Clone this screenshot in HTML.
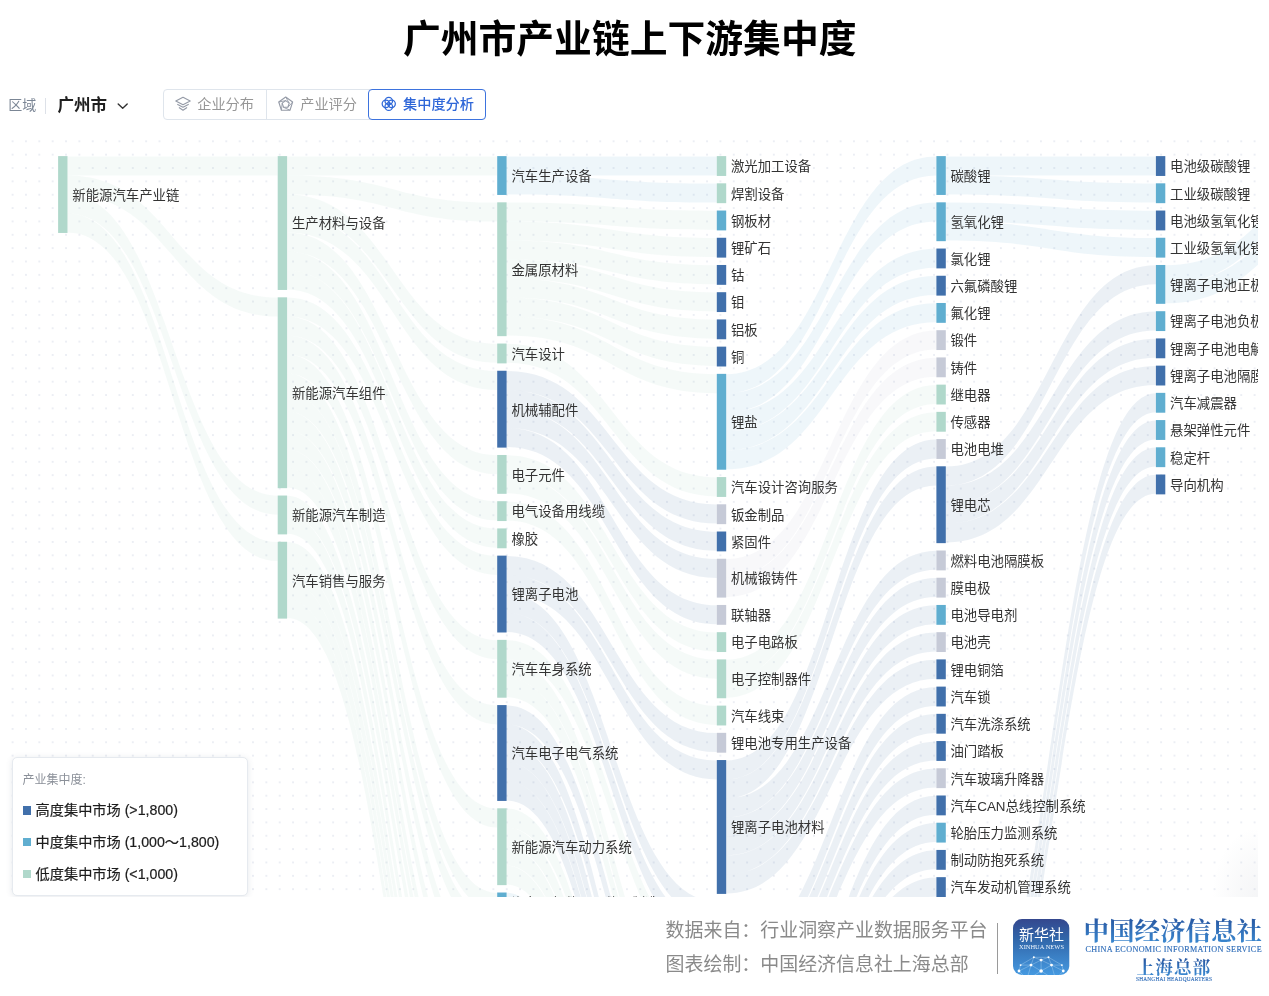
<!DOCTYPE html>
<html lang="zh-CN">
<head>
<meta charset="utf-8">
<title>广州市产业链上下游集中度</title>
<style>
html,body{margin:0;padding:0;background:#fff;}
body{width:1269px;height:996px;position:relative;overflow:hidden;font-family:"Liberation Sans","Noto Sans CJK SC",sans-serif;color:#333;}
.abs{position:absolute;white-space:nowrap;}
#title{left:0;width:1259.4px;top:10.5px;height:56px;line-height:56px;text-align:center;font-size:37.8px;font-weight:700;color:#000;letter-spacing:0;}
#region-label{left:8.2px;top:94px;height:22px;line-height:22px;font-size:14px;color:#7b8695;}
#region-div{left:44.5px;top:97.5px;width:1px;height:16.5px;background:#dde1e8;}
#region-val{left:57.6px;top:93px;height:24px;line-height:24px;font-size:16.5px;font-weight:700;color:#1f1f1f;}
#tabs{left:163px;top:89px;width:323px;height:30.5px;box-sizing:border-box;border:1px solid #dfe5ec;border-radius:4px;}
.tab{position:absolute;top:89px;height:30.5px;line-height:30px;font-size:14.2px;color:#979797;white-space:nowrap;}
#tab-active{left:368px;top:89px;width:118px;height:30.5px;box-sizing:border-box;border:1px solid #3d73de;border-radius:4px;background:#fff;}
#legend{left:12.1px;top:618.5px;width:235.6px;height:139.3px;box-sizing:border-box;border:1px solid #e6eaef;border-radius:5px;background:#fff;box-shadow:0 1px 6px rgba(60,80,110,0.13);}
#legend .lt{position:absolute;left:9.5px;top:12px;font-size:12px;line-height:20px;color:#8b9099;}
#legend .li{position:absolute;left:9.3px;height:20px;line-height:20px;font-size:14.2px;color:#1c1c1c;white-space:nowrap;-webkit-text-stroke:0.2px #1c1c1c;}
#legend .sw{position:absolute;left:0.3px;top:6px;width:8.3px;height:8.3px;}
#legend .tx{position:absolute;left:13.2px;top:0;}
.foot{left:665.6px;font-size:18.95px;line-height:26px;height:26px;color:#8a8a8a;}
#vline{left:996.5px;top:922.5px;width:1.2px;height:51.5px;background:#9a9a9a;}
#logo{left:1013.4px;top:919px;width:56.3px;height:55.9px;}
.cn-serif{font-family:"Liberation Serif","Noto Serif CJK SC",serif;}
</style>
</head>
<body>
<div id="title" class="abs">广州市产业链上下游集中度</div>

<div id="region-label" class="abs">区域</div>
<div id="region-div" class="abs"></div>
<div id="region-val" class="abs">广州市</div>
<svg class="abs" style="left:116px;top:100px" width="14" height="12" viewBox="0 0 14 12"><path d="M2.2 4 L6.7 8.3 L11.2 4" fill="none" stroke="#333" stroke-width="1.4" stroke-linecap="round" stroke-linejoin="round"/></svg>

<div id="tabs" class="abs"></div>
<div class="abs" style="left:265.5px;top:90px;width:1px;height:28.5px;background:#dfe5ec"></div>
<svg class="abs" style="left:170px;top:92px" width="30" height="24" viewBox="170 92 30 24"><g fill="none" stroke="#959ba7" stroke-width="1.15" stroke-linejoin="round" stroke-linecap="round"><path d="M183 97.3 L190.2 101 L183 104.7 L175.8 101 Z"/><path d="M177.7 104.4 L183 107.2 L188.3 104.4"/><path d="M179.3 107.7 L183 110.2 L186.7 107.7"/></g></svg>
<div class="tab" style="left:197.2px">企业分布</div>
<svg class="abs" style="left:272px;top:92px" width="30" height="24" viewBox="272 92 30 24"><g fill="none" stroke="#959ba7" stroke-width="1.1" stroke-linejoin="round"><path d="M285.70 97.00 L292.64 102.04 L289.99 110.21 L281.41 110.21 L278.76 102.04 Z"/><path d="M285.70 100.60 L289.22 103.16 L287.87 107.29 L283.53 107.29 L282.18 103.16 Z"/><path d="M285.70 97.00 L289.22 103.16M292.64 102.04 L287.87 107.29M289.99 110.21 L283.53 107.29M281.41 110.21 L282.18 103.16M278.76 102.04 L285.70 100.60" stroke-width="0.9"/></g></svg>
<div class="tab" style="left:300.2px">产业评分</div>
<div id="tab-active" class="abs"></div>
<svg class="abs" style="left:374px;top:92px" width="30" height="24" viewBox="374 92 30 24"><g fill="none" stroke="#2f68d8" stroke-width="1.25"><circle cx="388.75" cy="101.00" r="3.75"/><circle cx="388.75" cy="106.70" r="3.75"/><circle cx="385.90" cy="103.85" r="3.75"/><circle cx="391.60" cy="103.85" r="3.75"/></g></svg>
<div class="tab" style="left:403px;color:#2f67d8;font-weight:500">集中度分析</div>

<svg width="1258" height="759.4" viewBox="0 138 1258 759.4" style="position:absolute;left:0;top:138px;overflow:hidden">
<defs><pattern id="dots" x="5.92" y="134.62" width="13.355" height="13.355" patternUnits="userSpaceOnUse"><circle cx="6.68" cy="6.68" r="1.0" fill="#e7eaf2"/></pattern></defs>
<rect x="8" y="138" width="1250" height="759.4" fill="url(#dots)"/>
<g fill="#9fd0c0" fill-opacity="0.105">
<path d="M67.5,156.4C172.6,156.4 172.6,156.4 277.7,156.4L277.7,175.4C172.6,175.4 172.6,175.4 67.5,175.4Z"/>
<path d="M67.5,175.4C172.6,175.4 172.6,297.6 277.7,297.6L277.7,316.6C172.6,316.6 172.6,194.4 67.5,194.4Z"/>
<path d="M67.5,194.4C172.6,194.4 172.6,495.8 277.7,495.8L277.7,514.8C172.6,514.8 172.6,213.4 67.5,213.4Z"/>
<path d="M67.5,213.4C172.6,213.4 172.6,542.1 277.7,542.1L277.7,561.1C172.6,561.1 172.6,232.4 67.5,232.4Z"/>
<path d="M287.1,156.4C392.2,156.4 392.2,156.4 497.2,156.4L497.2,175.4C392.2,175.4 392.2,175.4 287.1,175.4Z"/>
<path d="M287.1,175.4C392.2,175.4 392.2,202.6 497.2,202.6L497.2,221.6C392.2,221.6 392.2,194.4 287.1,194.4Z"/>
<path d="M287.1,194.4C392.2,194.4 392.2,343.8 497.2,343.8L497.2,362.8C392.2,362.8 392.2,213.4 287.1,213.4Z"/>
<path d="M287.1,213.4C392.2,213.4 392.2,371.1 497.2,371.1L497.2,390.1C392.2,390.1 392.2,232.4 287.1,232.4Z"/>
<path d="M287.1,232.4C392.2,232.4 392.2,455.3 497.2,455.3L497.2,474.3C392.2,474.3 392.2,251.4 287.1,251.4Z"/>
<path d="M287.1,251.4C392.2,251.4 392.2,501.5 497.2,501.5L497.2,520.5C392.2,520.5 392.2,270.4 287.1,270.4Z"/>
<path d="M287.1,270.4C392.2,270.4 392.2,528.7 497.2,528.7L497.2,547.7C392.2,547.7 392.2,289.4 287.1,289.4Z"/>
<path d="M287.1,297.6C392.2,297.6 392.2,555.9 497.2,555.9L497.2,574.9C392.2,574.9 392.2,316.6 287.1,316.6Z"/>
<path d="M287.1,316.6C392.2,316.6 392.2,640.2 497.2,640.2L497.2,659.2C392.2,659.2 392.2,335.6 287.1,335.6Z"/>
<path d="M287.1,335.6C392.2,335.6 392.2,705.4 497.2,705.4L497.2,724.4C392.2,724.4 392.2,354.6 287.1,354.6Z"/>
<path d="M287.1,354.6C392.2,354.6 392.2,808.6 497.2,808.6L497.2,827.6C392.2,827.6 392.2,373.6 287.1,373.6Z"/>
<path d="M287.1,373.6C392.2,373.6 392.2,892.8 497.2,892.8L497.2,911.8C392.2,911.8 392.2,392.6 287.1,392.6Z"/>
<path d="M287.1,392.6C392.2,392.6 392.2,920.0 497.2,920.0L497.2,939.0C392.2,939.0 392.2,411.6 287.1,411.6Z"/>
<path d="M287.1,411.6C392.2,411.6 392.2,966.3 497.2,966.3L497.2,985.3C392.2,985.3 392.2,430.6 287.1,430.6Z"/>
<path d="M287.1,430.6C392.2,430.6 392.2,1012.5 497.2,1012.5L497.2,1031.5C392.2,1031.5 392.2,449.6 287.1,449.6Z"/>
<path d="M287.1,449.6C392.2,449.6 392.2,1058.7 497.2,1058.7L497.2,1077.7C392.2,1077.7 392.2,468.6 287.1,468.6Z"/>
<path d="M287.1,468.6C392.2,468.6 392.2,1085.9 497.2,1085.9L497.2,1104.9C392.2,1104.9 392.2,487.6 287.1,487.6Z"/>
<path d="M287.1,495.8C392.2,495.8 392.2,1113.1 497.2,1113.1L497.2,1132.1C392.2,1132.1 392.2,514.8 287.1,514.8Z"/>
<path d="M287.1,514.8C392.2,514.8 392.2,1159.4 497.2,1159.4L497.2,1178.4C392.2,1178.4 392.2,533.8 287.1,533.8Z"/>
<path d="M287.1,542.1C392.2,542.1 392.2,1186.6 497.2,1186.6L497.2,1205.6C392.2,1205.6 392.2,561.1 287.1,561.1Z"/>
<path d="M287.1,561.1C392.2,561.1 392.2,1213.8 497.2,1213.8L497.2,1232.8C392.2,1232.8 392.2,580.1 287.1,580.1Z"/>
<path d="M287.1,580.1C392.2,580.1 392.2,1241.0 497.2,1241.0L497.2,1260.0C392.2,1260.0 392.2,599.1 287.1,599.1Z"/>
<path d="M287.1,599.1C392.2,599.1 392.2,1268.2 497.2,1268.2L497.2,1287.2C392.2,1287.2 392.2,618.1 287.1,618.1Z"/>
<path d="M506.6,202.6C611.7,202.6 611.7,210.8 716.8,210.8L716.8,229.8C611.7,229.8 611.7,221.6 506.6,221.6Z"/>
<path d="M506.6,221.6C611.7,221.6 611.7,238.1 716.8,238.1L716.8,257.1C611.7,257.1 611.7,240.6 506.6,240.6Z"/>
<path d="M506.6,240.6C611.7,240.6 611.7,265.3 716.8,265.3L716.8,284.3C611.7,284.3 611.7,259.6 506.6,259.6Z"/>
<path d="M506.6,259.6C611.7,259.6 611.7,292.5 716.8,292.5L716.8,311.5C611.7,311.5 611.7,278.6 506.6,278.6Z"/>
<path d="M506.6,278.6C611.7,278.6 611.7,319.7 716.8,319.7L716.8,338.7C611.7,338.7 611.7,297.6 506.6,297.6Z"/>
<path d="M506.6,297.6C611.7,297.6 611.7,346.9 716.8,346.9L716.8,365.9C611.7,365.9 611.7,316.6 506.6,316.6Z"/>
<path d="M506.6,316.6C611.7,316.6 611.7,374.2 716.8,374.2L716.8,393.2C611.7,393.2 611.7,335.6 506.6,335.6Z"/>
<path d="M506.6,343.8C611.7,343.8 611.7,477.4 716.8,477.4L716.8,496.4C611.7,496.4 611.7,362.8 506.6,362.8Z"/>
<path d="M506.6,455.3C611.7,455.3 611.7,632.5 716.8,632.5L716.8,651.5C611.7,651.5 611.7,474.3 506.6,474.3Z"/>
<path d="M506.6,474.3C611.7,474.3 611.7,659.7 716.8,659.7L716.8,678.7C611.7,678.7 611.7,493.3 506.6,493.3Z"/>
<path d="M506.6,501.5C611.7,501.5 611.7,705.9 716.8,705.9L716.8,724.9C611.7,724.9 611.7,520.5 506.6,520.5Z"/>
<path d="M506.6,640.2C611.7,640.2 611.7,956.0 716.8,956.0L716.8,975.0C611.7,975.0 611.7,659.2 506.6,659.2Z"/>
<path d="M506.6,659.2C611.7,659.2 611.7,1040.2 716.8,1040.2L716.8,1059.2C611.7,1059.2 611.7,678.2 506.6,678.2Z"/>
<path d="M506.6,678.2C611.7,678.2 611.7,1067.5 716.8,1067.5L716.8,1086.5C611.7,1086.5 611.7,697.2 506.6,697.2Z"/>
<path d="M506.6,808.6C611.7,808.6 611.7,1306.8 716.8,1306.8L716.8,1325.8C611.7,1325.8 611.7,827.6 506.6,827.6Z"/>
<path d="M506.6,827.6C611.7,827.6 611.7,1372.0 716.8,1372.0L716.8,1391.0C611.7,1391.0 611.7,846.6 506.6,846.6Z"/>
<path d="M506.6,846.6C611.7,846.6 611.7,1418.2 716.8,1418.2L716.8,1437.2C611.7,1437.2 611.7,865.6 506.6,865.6Z"/>
<path d="M506.6,865.6C611.7,865.6 611.7,1464.4 716.8,1464.4L716.8,1483.4C611.7,1483.4 611.7,884.6 506.6,884.6Z"/>
<path d="M726.2,659.7C831.3,659.7 831.3,384.9 936.4,384.9L936.4,403.9C831.3,403.9 831.3,678.7 726.2,678.7Z"/>
<path d="M726.2,678.7C831.3,678.7 831.3,412.2 936.4,412.2L936.4,431.2C831.3,431.2 831.3,697.7 726.2,697.7Z"/>
</g>
<g fill="#5aaad2" fill-opacity="0.105">
<path d="M506.6,156.4C611.7,156.4 611.7,156.4 716.8,156.4L716.8,175.4C611.7,175.4 611.7,175.4 506.6,175.4Z"/>
<path d="M506.6,175.4C611.7,175.4 611.7,183.6 716.8,183.6L716.8,202.6C611.7,202.6 611.7,194.4 506.6,194.4Z"/>
<path d="M506.6,892.8C611.7,892.8 611.7,1548.7 716.8,1548.7L716.8,1567.7C611.7,1567.7 611.7,911.8 506.6,911.8Z"/>
<path d="M726.2,374.2C831.3,374.2 831.3,156.4 936.4,156.4L936.4,175.4C831.3,175.4 831.3,393.2 726.2,393.2Z"/>
<path d="M726.2,393.2C831.3,393.2 831.3,202.6 936.4,202.6L936.4,221.6C831.3,221.6 831.3,412.2 726.2,412.2Z"/>
<path d="M726.2,412.2C831.3,412.2 831.3,248.8 936.4,248.8L936.4,267.8C831.3,267.8 831.3,431.2 726.2,431.2Z"/>
<path d="M726.2,431.2C831.3,431.2 831.3,276.1 936.4,276.1L936.4,295.1C831.3,295.1 831.3,450.2 726.2,450.2Z"/>
<path d="M726.2,450.2C831.3,450.2 831.3,303.3 936.4,303.3L936.4,322.3C831.3,322.3 831.3,469.2 726.2,469.2Z"/>
<path d="M945.8,156.4C1050.8,156.4 1050.8,156.4 1155.9,156.4L1155.9,175.4C1050.8,175.4 1050.8,175.4 945.8,175.4Z"/>
<path d="M945.8,175.4C1050.8,175.4 1050.8,183.6 1155.9,183.6L1155.9,202.6C1050.8,202.6 1050.8,194.4 945.8,194.4Z"/>
<path d="M945.8,202.6C1050.8,202.6 1050.8,210.8 1155.9,210.8L1155.9,229.8C1050.8,229.8 1050.8,221.6 945.8,221.6Z"/>
<path d="M945.8,221.6C1050.8,221.6 1050.8,238.1 1155.9,238.1L1155.9,257.1C1050.8,257.1 1050.8,240.6 945.8,240.6Z"/>
<path d="M1165.3,265.3C1270.4,265.3 1270.4,156.4 1375.5,156.4L1375.5,175.4C1270.4,175.4 1270.4,284.3 1165.3,284.3Z"/>
<path d="M1165.3,284.3C1270.4,284.3 1270.4,183.6 1375.5,183.6L1375.5,202.6C1270.4,202.6 1270.4,303.3 1165.3,303.3Z"/>
</g>
<g fill="#3f6fa3" fill-opacity="0.105">
<path d="M506.6,371.1C611.7,371.1 611.7,504.6 716.8,504.6L716.8,523.6C611.7,523.6 611.7,390.1 506.6,390.1Z"/>
<path d="M506.6,390.1C611.7,390.1 611.7,531.8 716.8,531.8L716.8,550.8C611.7,550.8 611.7,409.1 506.6,409.1Z"/>
<path d="M506.6,409.1C611.7,409.1 611.7,559.0 716.8,559.0L716.8,578.0C611.7,578.0 611.7,428.1 506.6,428.1Z"/>
<path d="M506.6,428.1C611.7,428.1 611.7,605.3 716.8,605.3L716.8,624.3C611.7,624.3 611.7,447.1 506.6,447.1Z"/>
<path d="M506.6,555.9C611.7,555.9 611.7,733.1 716.8,733.1L716.8,752.1C611.7,752.1 611.7,574.9 506.6,574.9Z"/>
<path d="M506.6,574.9C611.7,574.9 611.7,760.4 716.8,760.4L716.8,779.4C611.7,779.4 611.7,593.9 506.6,593.9Z"/>
<path d="M506.6,593.9C611.7,593.9 611.7,901.6 716.8,901.6L716.8,920.6C611.7,920.6 611.7,612.9 506.6,612.9Z"/>
<path d="M506.6,612.9C611.7,612.9 611.7,928.8 716.8,928.8L716.8,947.8C611.7,947.8 611.7,631.9 506.6,631.9Z"/>
<path d="M506.6,705.4C611.7,705.4 611.7,1094.7 716.8,1094.7L716.8,1113.7C611.7,1113.7 611.7,724.4 506.6,724.4Z"/>
<path d="M506.6,724.4C611.7,724.4 611.7,1178.9 716.8,1178.9L716.8,1197.9C611.7,1197.9 611.7,743.4 506.6,743.4Z"/>
<path d="M506.6,743.4C611.7,743.4 611.7,1225.1 716.8,1225.1L716.8,1244.1C611.7,1244.1 611.7,762.4 506.6,762.4Z"/>
<path d="M506.6,762.4C611.7,762.4 611.7,1252.3 716.8,1252.3L716.8,1271.3C611.7,1271.3 611.7,781.4 506.6,781.4Z"/>
<path d="M506.6,781.4C611.7,781.4 611.7,1279.6 716.8,1279.6L716.8,1298.6C611.7,1298.6 611.7,800.4 506.6,800.4Z"/>
<path d="M726.2,760.4C831.3,760.4 831.3,439.4 936.4,439.4L936.4,458.4C831.3,458.4 831.3,779.4 726.2,779.4Z"/>
<path d="M726.2,779.4C831.3,779.4 831.3,466.6 936.4,466.6L936.4,485.6C831.3,485.6 831.3,798.4 726.2,798.4Z"/>
<path d="M726.2,798.4C831.3,798.4 831.3,550.8 936.4,550.8L936.4,569.8C831.3,569.8 831.3,817.4 726.2,817.4Z"/>
<path d="M726.2,817.4C831.3,817.4 831.3,578.0 936.4,578.0L936.4,597.0C831.3,597.0 831.3,836.4 726.2,836.4Z"/>
<path d="M726.2,836.4C831.3,836.4 831.3,605.3 936.4,605.3L936.4,624.3C831.3,624.3 831.3,855.4 726.2,855.4Z"/>
<path d="M726.2,855.4C831.3,855.4 831.3,632.5 936.4,632.5L936.4,651.5C831.3,651.5 831.3,874.4 726.2,874.4Z"/>
<path d="M726.2,874.4C831.3,874.4 831.3,659.7 936.4,659.7L936.4,678.7C831.3,678.7 831.3,893.4 726.2,893.4Z"/>
<path d="M726.2,956.0C831.3,956.0 831.3,686.9 936.4,686.9L936.4,705.9C831.3,705.9 831.3,975.0 726.2,975.0Z"/>
<path d="M726.2,975.0C831.3,975.0 831.3,714.1 936.4,714.1L936.4,733.1C831.3,733.1 831.3,994.0 726.2,994.0Z"/>
<path d="M726.2,994.0C831.3,994.0 831.3,741.4 936.4,741.4L936.4,760.4C831.3,760.4 831.3,1013.0 726.2,1013.0Z"/>
<path d="M726.2,1013.0C831.3,1013.0 831.3,768.6 936.4,768.6L936.4,787.6C831.3,787.6 831.3,1032.0 726.2,1032.0Z"/>
<path d="M726.2,1094.7C831.3,1094.7 831.3,795.8 936.4,795.8L936.4,814.8C831.3,814.8 831.3,1113.7 726.2,1113.7Z"/>
<path d="M726.2,1113.7C831.3,1113.7 831.3,823.0 936.4,823.0L936.4,842.0C831.3,842.0 831.3,1132.7 726.2,1132.7Z"/>
<path d="M726.2,1132.7C831.3,1132.7 831.3,850.2 936.4,850.2L936.4,869.2C831.3,869.2 831.3,1151.7 726.2,1151.7Z"/>
<path d="M726.2,1151.7C831.3,1151.7 831.3,877.5 936.4,877.5L936.4,896.5C831.3,896.5 831.3,1170.7 726.2,1170.7Z"/>
<path d="M945.8,466.6C1050.8,466.6 1050.8,265.3 1155.9,265.3L1155.9,284.3C1050.8,284.3 1050.8,485.6 945.8,485.6Z"/>
<path d="M945.8,485.6C1050.8,485.6 1050.8,311.5 1155.9,311.5L1155.9,330.5C1050.8,330.5 1050.8,504.6 945.8,504.6Z"/>
<path d="M945.8,504.6C1050.8,504.6 1050.8,338.7 1155.9,338.7L1155.9,357.7C1050.8,357.7 1050.8,523.6 945.8,523.6Z"/>
<path d="M945.8,523.6C1050.8,523.6 1050.8,365.9 1155.9,365.9L1155.9,384.9C1050.8,384.9 1050.8,542.6 945.8,542.6Z"/>
<path d="M945.8,1095.2C1050.8,1095.2 1050.8,393.2 1155.9,393.2L1155.9,412.2C1050.8,412.2 1050.8,1114.2 945.8,1114.2Z"/>
<path d="M945.8,1114.2C1050.8,1114.2 1050.8,420.4 1155.9,420.4L1155.9,439.4C1050.8,439.4 1050.8,1133.2 945.8,1133.2Z"/>
<path d="M945.8,1133.2C1050.8,1133.2 1050.8,447.6 1155.9,447.6L1155.9,466.6C1050.8,466.6 1050.8,1152.2 945.8,1152.2Z"/>
<path d="M945.8,1152.2C1050.8,1152.2 1050.8,474.8 1155.9,474.8L1155.9,493.8C1050.8,493.8 1050.8,1171.2 945.8,1171.2Z"/>
</g>
<g fill="#b9bfd0" fill-opacity="0.105">
<path d="M726.2,559.0C831.3,559.0 831.3,330.5 936.4,330.5L936.4,349.5C831.3,349.5 831.3,578.0 726.2,578.0Z"/>
<path d="M726.2,578.0C831.3,578.0 831.3,357.7 936.4,357.7L936.4,376.7C831.3,376.7 831.3,597.0 726.2,597.0Z"/>
</g>
<rect x="58.1" y="156.10" width="9.4" height="76.85" fill="#b0d8cb"/>
<rect x="277.7" y="156.10" width="9.4" height="133.85" fill="#b0d8cb"/>
<rect x="277.7" y="297.32" width="9.4" height="190.85" fill="#b0d8cb"/>
<rect x="277.7" y="495.54" width="9.4" height="38.85" fill="#b0d8cb"/>
<rect x="277.7" y="541.76" width="9.4" height="76.85" fill="#b0d8cb"/>
<rect x="497.2" y="156.10" width="9.4" height="38.85" fill="#60aed0"/>
<rect x="497.2" y="202.32" width="9.4" height="133.85" fill="#b0d8cb"/>
<rect x="497.2" y="343.54" width="9.4" height="19.85" fill="#b0d8cb"/>
<rect x="497.2" y="370.76" width="9.4" height="76.85" fill="#4170ab"/>
<rect x="497.2" y="454.98" width="9.4" height="38.85" fill="#b0d8cb"/>
<rect x="497.2" y="501.20" width="9.4" height="19.85" fill="#b0d8cb"/>
<rect x="497.2" y="528.42" width="9.4" height="19.85" fill="#b0d8cb"/>
<rect x="497.2" y="555.64" width="9.4" height="76.85" fill="#4170ab"/>
<rect x="497.2" y="639.86" width="9.4" height="57.85" fill="#b0d8cb"/>
<rect x="497.2" y="705.08" width="9.4" height="95.85" fill="#4170ab"/>
<rect x="497.2" y="808.30" width="9.4" height="76.85" fill="#b0d8cb"/>
<rect x="497.2" y="892.52" width="9.4" height="19.85" fill="#60aed0"/>
<rect x="716.8" y="156.10" width="9.4" height="19.85" fill="#b0d8cb"/>
<rect x="716.8" y="183.32" width="9.4" height="19.85" fill="#b0d8cb"/>
<rect x="716.8" y="210.54" width="9.4" height="19.85" fill="#60aed0"/>
<rect x="716.8" y="237.76" width="9.4" height="19.85" fill="#4170ab"/>
<rect x="716.8" y="264.98" width="9.4" height="19.85" fill="#4170ab"/>
<rect x="716.8" y="292.20" width="9.4" height="19.85" fill="#4170ab"/>
<rect x="716.8" y="319.42" width="9.4" height="19.85" fill="#4170ab"/>
<rect x="716.8" y="346.64" width="9.4" height="19.85" fill="#4170ab"/>
<rect x="716.8" y="373.86" width="9.4" height="95.85" fill="#60aed0"/>
<rect x="716.8" y="477.08" width="9.4" height="19.85" fill="#b0d8cb"/>
<rect x="716.8" y="504.30" width="9.4" height="19.85" fill="#c6cad7"/>
<rect x="716.8" y="531.52" width="9.4" height="19.85" fill="#4170ab"/>
<rect x="716.8" y="558.74" width="9.4" height="38.85" fill="#c6cad7"/>
<rect x="716.8" y="604.96" width="9.4" height="19.85" fill="#c6cad7"/>
<rect x="716.8" y="632.18" width="9.4" height="19.85" fill="#b0d8cb"/>
<rect x="716.8" y="659.40" width="9.4" height="38.85" fill="#b0d8cb"/>
<rect x="716.8" y="705.62" width="9.4" height="19.85" fill="#b0d8cb"/>
<rect x="716.8" y="732.84" width="9.4" height="19.85" fill="#c6cad7"/>
<rect x="716.8" y="760.06" width="9.4" height="133.85" fill="#4170ab"/>
<rect x="936.4" y="156.10" width="9.4" height="38.85" fill="#60aed0"/>
<rect x="936.4" y="202.32" width="9.4" height="38.85" fill="#60aed0"/>
<rect x="936.4" y="248.54" width="9.4" height="19.85" fill="#4170ab"/>
<rect x="936.4" y="275.76" width="9.4" height="19.85" fill="#4170ab"/>
<rect x="936.4" y="302.98" width="9.4" height="19.85" fill="#60aed0"/>
<rect x="936.4" y="330.20" width="9.4" height="19.85" fill="#c6cad7"/>
<rect x="936.4" y="357.42" width="9.4" height="19.85" fill="#c6cad7"/>
<rect x="936.4" y="384.64" width="9.4" height="19.85" fill="#b0d8cb"/>
<rect x="936.4" y="411.86" width="9.4" height="19.85" fill="#b0d8cb"/>
<rect x="936.4" y="439.08" width="9.4" height="19.85" fill="#c6cad7"/>
<rect x="936.4" y="466.30" width="9.4" height="76.85" fill="#4170ab"/>
<rect x="936.4" y="550.52" width="9.4" height="19.85" fill="#c6cad7"/>
<rect x="936.4" y="577.74" width="9.4" height="19.85" fill="#c6cad7"/>
<rect x="936.4" y="604.96" width="9.4" height="19.85" fill="#60aed0"/>
<rect x="936.4" y="632.18" width="9.4" height="19.85" fill="#c6cad7"/>
<rect x="936.4" y="659.40" width="9.4" height="19.85" fill="#4170ab"/>
<rect x="936.4" y="686.62" width="9.4" height="19.85" fill="#4170ab"/>
<rect x="936.4" y="713.84" width="9.4" height="19.85" fill="#4170ab"/>
<rect x="936.4" y="741.06" width="9.4" height="19.85" fill="#4170ab"/>
<rect x="936.4" y="768.28" width="9.4" height="19.85" fill="#c6cad7"/>
<rect x="936.4" y="795.50" width="9.4" height="19.85" fill="#4170ab"/>
<rect x="936.4" y="822.72" width="9.4" height="19.85" fill="#60aed0"/>
<rect x="936.4" y="849.94" width="9.4" height="19.85" fill="#4170ab"/>
<rect x="936.4" y="877.16" width="9.4" height="19.85" fill="#4170ab"/>
<rect x="1155.9" y="156.10" width="9.4" height="19.85" fill="#4170ab"/>
<rect x="1155.9" y="183.32" width="9.4" height="19.85" fill="#60aed0"/>
<rect x="1155.9" y="210.54" width="9.4" height="19.85" fill="#4170ab"/>
<rect x="1155.9" y="237.76" width="9.4" height="19.85" fill="#60aed0"/>
<rect x="1155.9" y="264.98" width="9.4" height="38.85" fill="#60aed0"/>
<rect x="1155.9" y="311.20" width="9.4" height="19.85" fill="#60aed0"/>
<rect x="1155.9" y="338.42" width="9.4" height="19.85" fill="#4170ab"/>
<rect x="1155.9" y="365.64" width="9.4" height="19.85" fill="#4170ab"/>
<rect x="1155.9" y="392.86" width="9.4" height="19.85" fill="#60aed0"/>
<rect x="1155.9" y="420.08" width="9.4" height="19.85" fill="#60aed0"/>
<rect x="1155.9" y="447.30" width="9.4" height="19.85" fill="#60aed0"/>
<rect x="1155.9" y="474.52" width="9.4" height="19.85" fill="#4170ab"/>
<g font-family="'Liberation Sans','Noto Sans CJK SC',sans-serif" font-size="13.4" fill="#333" dominant-baseline="central">
<text x="72.3" y="195.4">新能源汽车产业链</text>
<text x="291.9" y="223.9">生产材料与设备</text>
<text x="291.9" y="393.6">新能源汽车组件</text>
<text x="291.9" y="515.8">新能源汽车制造</text>
<text x="291.9" y="581.1">汽车销售与服务</text>
<text x="511.4" y="176.4">汽车生产设备</text>
<text x="511.4" y="270.1">金属原材料</text>
<text x="511.4" y="354.3">汽车设计</text>
<text x="511.4" y="410.1">机械辅配件</text>
<text x="511.4" y="475.3">电子元件</text>
<text x="511.4" y="512.0">电气设备用线缆</text>
<text x="511.4" y="539.2">橡胶</text>
<text x="511.4" y="594.9">锂离子电池</text>
<text x="511.4" y="669.7">汽车车身系统</text>
<text x="511.4" y="753.9">汽车电子电气系统</text>
<text x="511.4" y="847.6">新能源汽车动力系统</text>
<text x="511.4" y="903.3">汽车零部件及配件再制造</text>
<text x="731.0" y="166.9">激光加工设备</text>
<text x="731.0" y="194.1">焊割设备</text>
<text x="731.0" y="221.3">钢板材</text>
<text x="731.0" y="248.6">锂矿石</text>
<text x="731.0" y="275.8">钴</text>
<text x="731.0" y="303.0">钼</text>
<text x="731.0" y="330.2">铝板</text>
<text x="731.0" y="357.4">铜</text>
<text x="731.0" y="422.7">锂盐</text>
<text x="731.0" y="487.9">汽车设计咨询服务</text>
<text x="731.0" y="515.1">钣金制品</text>
<text x="731.0" y="542.3">紧固件</text>
<text x="731.0" y="579.0">机械锻铸件</text>
<text x="731.0" y="615.8">联轴器</text>
<text x="731.0" y="643.0">电子电路板</text>
<text x="731.0" y="679.7">电子控制器件</text>
<text x="731.0" y="716.4">汽车线束</text>
<text x="731.0" y="743.6">锂电池专用生产设备</text>
<text x="731.0" y="827.9">锂离子电池材料</text>
<text x="950.5" y="176.4">碳酸锂</text>
<text x="950.5" y="222.6">氢氧化锂</text>
<text x="950.5" y="259.3">氯化锂</text>
<text x="950.5" y="286.6">六氟磷酸锂</text>
<text x="950.5" y="313.8">氟化锂</text>
<text x="950.5" y="341.0">锻件</text>
<text x="950.5" y="368.2">铸件</text>
<text x="950.5" y="395.4">继电器</text>
<text x="950.5" y="422.7">传感器</text>
<text x="950.5" y="449.9">电池电堆</text>
<text x="950.5" y="505.6">锂电芯</text>
<text x="950.5" y="561.3">燃料电池隔膜板</text>
<text x="950.5" y="588.5">膜电极</text>
<text x="950.5" y="615.8">电池导电剂</text>
<text x="950.5" y="643.0">电池壳</text>
<text x="950.5" y="670.2">锂电铜箔</text>
<text x="950.5" y="697.4">汽车锁</text>
<text x="950.5" y="724.6">汽车洗涤系统</text>
<text x="950.5" y="751.9">油门踏板</text>
<text x="950.5" y="779.1">汽车玻璃升降器</text>
<text x="950.5" y="806.3">汽车CAN总线控制系统</text>
<text x="950.5" y="833.5">轮胎压力监测系统</text>
<text x="950.5" y="860.7">制动防抱死系统</text>
<text x="950.5" y="888.0">汽车发动机管理系统</text>
<text x="1170.1" y="166.9">电池级碳酸锂</text>
<text x="1170.1" y="194.1">工业级碳酸锂</text>
<text x="1170.1" y="221.3">电池级氢氧化锂</text>
<text x="1170.1" y="248.6">工业级氢氧化锂</text>
<text x="1170.1" y="285.3">锂离子电池正极材料</text>
<text x="1170.1" y="322.0">锂离子电池负极材料</text>
<text x="1170.1" y="349.2">锂离子电池电解液</text>
<text x="1170.1" y="376.4">锂离子电池隔膜</text>
<text x="1170.1" y="403.7">汽车减震器</text>
<text x="1170.1" y="430.9">悬架弹性元件</text>
<text x="1170.1" y="458.1">稳定杆</text>
<text x="1170.1" y="485.3">导向机构</text>
</g>
</svg>

<div class="abs" style="left:0;top:138px;width:1258px;height:759.4px;overflow:hidden;pointer-events:none"><div id="legend" class="abs">
  <div class="lt">产业集中度:</div>
  <div class="li" style="top:42.9px"><span class="sw" style="background:#4170ab"></span><span class="tx">高度集中市场 (&gt;1,800)</span></div>
  <div class="li" style="top:74.6px"><span class="sw" style="background:#60aed0"></span><span class="tx">中度集中市场 (1,000～1,800)</span></div>
  <div class="li" style="top:106.3px"><span class="sw" style="background:#b0d8cb"></span><span class="tx">低度集中市场 (&lt;1,000)</span></div>
</div></div>

<div class="abs" style="left:1212px;top:827px;width:46px;height:70.4px;background:radial-gradient(ellipse 46px 70px at 100% 100%, rgba(110,120,140,0.07) 0%, rgba(110,120,140,0.045) 45%, rgba(110,120,140,0) 100%)"></div>
<div class="abs foot" style="top:917.5px">数据来自：行业洞察产业数据服务平台</div>
<div class="abs foot" style="top:951.7px">图表绘制：中国经济信息社上海总部</div>
<div id="vline" class="abs"></div>

<svg id="logo" class="abs" viewBox="0 0 56.3 55.9">
  <defs><linearGradient id="lg" x1="0" y1="0" x2="0" y2="1"><stop offset="0" stop-color="#34478e"/><stop offset="0.35" stop-color="#3166a9"/><stop offset="1" stop-color="#4599e0"/></linearGradient><clipPath id="lc"><rect x="0" y="0" width="56.3" height="55.9" rx="9" /></clipPath></defs>
  <rect x="0" y="0" width="56.3" height="55.9" rx="9" fill="url(#lg)"/>
  <text x="6" y="21.3" font-family="'Liberation Sans','Noto Sans CJK SC',sans-serif" font-weight="400" font-size="14.3" fill="#fff" textLength="45" lengthAdjust="spacingAndGlyphs">新华社</text>
  <text x="6" y="29.9" font-family="'Liberation Serif',serif" font-size="6.2" fill="#f1f6fc" textLength="45" lengthAdjust="spacingAndGlyphs">XINHUA NEWS</text>
  <g clip-path="url(#lc)"><path d="M20.8 38.3L35.5 38.3M20.8 38.3L28.1 41.1M28.1 41.1L35.5 38.3M20.8 38.3L7.6 46.1M20.8 38.3L18 46.1M35.5 38.3L38.5 46.1M35.5 38.3L48.9 46.1M28.1 41.1L18 46.1M28.1 41.1L38.5 46.1M28.1 41.1L28.1 52M7.6 46.1L18 46.1M38.5 46.1L48.9 46.1M7.6 46.1L6 52M18 46.1L6 52M18 46.1L28.1 52M38.5 46.1L28.1 52M38.5 46.1L50.3 52M48.9 46.1L50.3 52M6 52L10.5 56.5M28.1 52L21 56.5M28.1 52L35 56.5M18 46.1L15 56.5M38.5 46.1L41.5 56.5M50.3 52L46 56.5" stroke="#bfe0f7" stroke-width="0.4" fill="none" opacity="0.9"/>
  <g fill="#fff"><circle cx="20.8" cy="38.3" r="1.0"/><circle cx="35.5" cy="38.3" r="1.0"/><circle cx="28.1" cy="41.1" r="1.45"/><circle cx="7.6" cy="46.1" r="0.95"/><circle cx="18" cy="46.1" r="1.45"/><circle cx="38.5" cy="46.1" r="1.45"/><circle cx="48.9" cy="46.1" r="0.95"/><circle cx="6" cy="52" r="1.4"/><circle cx="28.1" cy="52" r="1.8"/><circle cx="50.3" cy="52" r="1.4"/></g></g>
</svg>

<div class="abs cn-serif" style="left:1083.6px;top:913px;height:38px;line-height:38px;font-size:25.5px;font-weight:700;color:transparent;background:linear-gradient(#2a5ca6 20%,#3d8dd4 85%);-webkit-background-clip:text;background-clip:text;">中国经济信息社</div>
<div class="abs" style="left:1085.5px;top:944.5px;height:10px;line-height:10px;font-size:8.15px;font-family:'Liberation Serif',serif;color:#2f6db9;font-weight:400;letter-spacing:0.37px;-webkit-text-stroke:0.15px #2f6db9">CHINA ECONOMIC INFORMATION SERVICE</div>
<div class="abs cn-serif" style="left:1136.5px;top:953.5px;height:28px;line-height:28px;font-size:17.7px;font-weight:700;color:transparent;background:linear-gradient(#2a5ca6 25%,#3d8dd4 80%);-webkit-background-clip:text;background-clip:text;letter-spacing:1px">上海总部</div>
<div class="abs" style="left:1136px;top:976px;height:6px;line-height:6px;font-size:5.35px;font-family:'Liberation Serif',serif;color:#2f6db9;font-weight:400;letter-spacing:0.2px;-webkit-text-stroke:0.12px #2f6db9;">SHANGHAI HEADQUARTERS</div>
</body>
</html>
